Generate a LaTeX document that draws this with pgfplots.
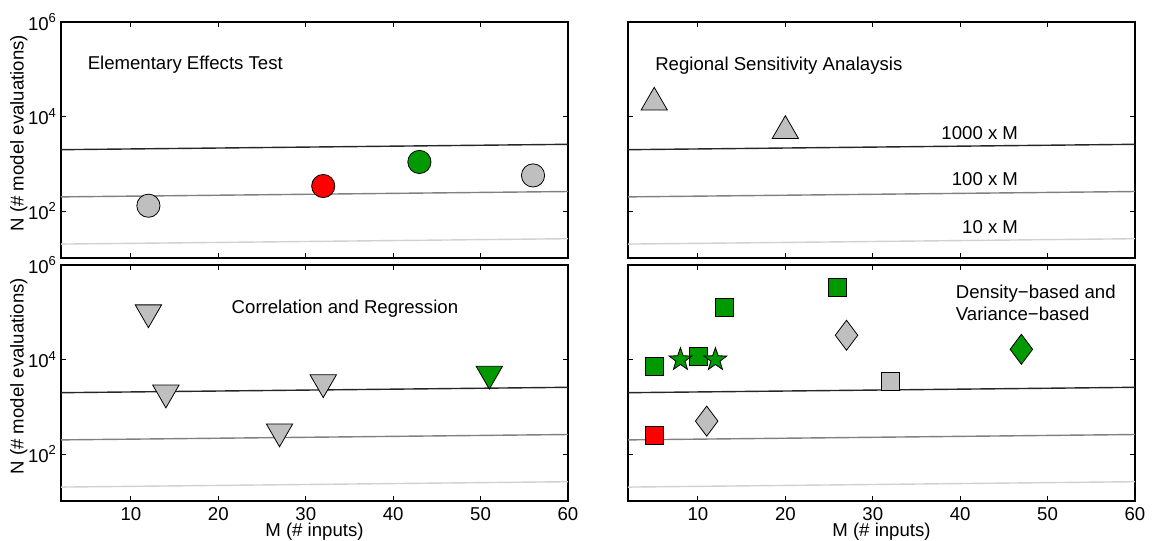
\documentclass[border=0pt]{standalone}
\usepackage{fontspec}
\setmainfont{Liberation Sans}
\usepackage{pgfplots}
\pgfplotsset{compat=1.18}

\definecolor{mgreen}{rgb}{0,0.6,0}
\definecolor{mgray}{rgb}{0.75,0.75,0.75}
\newcommand{\fs}{\fontsize{9.3}{11}\selectfont}

% filled five-pointed star (MATLAB 'pentagram')
\pgfdeclareplotmark{pstar}{%
  \pgfpathmoveto{\pgfqpointpolar{90}{\pgfplotmarksize}}%
  \pgfpathlineto{\pgfqpointpolar{126}{0.4\pgfplotmarksize}}%
  \pgfpathlineto{\pgfqpointpolar{162}{\pgfplotmarksize}}%
  \pgfpathlineto{\pgfqpointpolar{198}{0.4\pgfplotmarksize}}%
  \pgfpathlineto{\pgfqpointpolar{234}{\pgfplotmarksize}}%
  \pgfpathlineto{\pgfqpointpolar{270}{0.4\pgfplotmarksize}}%
  \pgfpathlineto{\pgfqpointpolar{306}{\pgfplotmarksize}}%
  \pgfpathlineto{\pgfqpointpolar{342}{0.4\pgfplotmarksize}}%
  \pgfpathlineto{\pgfqpointpolar{18}{\pgfplotmarksize}}%
  \pgfpathlineto{\pgfqpointpolar{54}{0.4\pgfplotmarksize}}%
  \pgfpathclose
  \pgfusepathqfillstroke
}

% one panel of the 2x2 figure, log N against M
\pgfplotsset{
  sapanel/.style={
    width=253.5pt, height=118pt, scale only axis,
    xmin=2, xmax=60, ymin=10, ymax=1e6,
    xtick={10,20,30,40,50,60}, xticklabels={10,20,30,40,50,60},
    ytick={100,10000,1000000},
    yticklabels={10\textsuperscript{2},10\textsuperscript{4},10\textsuperscript{6}},
    yminorticks=false, xminorticks=false,
    major tick length=2.5pt,
    tick style={black, line width=0.5pt},
    axis line style={line width=0.9pt},
    tick label style={font=\fs},
    label style={font=\fs},
    yticklabel style={xshift=1.5pt},
    xticklabel style={yshift=0.3pt},
    ylabel={N (\# model evaluations)},
    ylabel style={at={(axis description cs:-0.083,0.53)}, anchor=center},
    xlabel={M (\# inputs)},
    xlabel style={at={(axis description cs:0.5,-0.13)}, anchor=center},
  },
  refl/.style={forget plot, line width=0.7pt},
  samk/.style={only marks, mark options={draw=black, line width=0.5pt}},
  nolabx/.style={xticklabels={}, xlabel={}},
  nolaby/.style={yticklabels={}, ylabel={}},
}

\newcommand{\reflines}{%
  \addplot[refl, black!85] coordinates {(2,2000) (60,2600)};
  \addplot[refl, black!50] coordinates {(2,200) (60,260)};
  \addplot[refl, black!18] coordinates {(2,20) (60,26)};
}

\begin{document}
\begin{tikzpicture}[font=\fs]
\path[use as bounding box] (0,0) rectangle (576pt,270.5pt);

% Elementary Effects Test
\begin{semilogyaxis}[sapanel, nolabx, at={(30.5pt,141.35pt)}, anchor=south west]
\reflines
\addplot[samk, mark=*, mark size=5.8pt, mark options={fill=mgray}] coordinates {(12,130) (56,570)};
\addplot[samk, mark=*, mark size=5.8pt, mark options={fill=red}] coordinates {(32,340)};
\addplot[samk, mark=*, mark size=5.8pt, mark options={fill=mgreen}] coordinates {(43,1100)};
\node[anchor=west, inner sep=0pt] at (rel axis cs:0.052,0.822) {Elementary Effects Test};
\end{semilogyaxis}

% Regional Sensitivity Analysis
\begin{semilogyaxis}[sapanel, nolabx, nolaby, at={(314pt,141.35pt)}, anchor=south west]
\reflines
\addplot[samk, mark=triangle*, mark size=7.6pt, mark options={fill=mgray}] coordinates {(5,20000) (20,5000)};
\node[anchor=west, inner sep=0pt] at (rel axis cs:0.053,0.817) {Regional Sensitivity Analaysis};
\node[anchor=east, inner sep=0pt] at (rel axis cs:0.770,0.532) {1000 x M};
\node[anchor=east, inner sep=0pt] at (rel axis cs:0.770,0.336) {100 x M};
\node[anchor=east, inner sep=0pt] at (rel axis cs:0.770,0.134) {10 x M};
\end{semilogyaxis}

% Correlation and Regression
\begin{semilogyaxis}[sapanel, at={(30.5pt,19.85pt)}, anchor=south west]
\reflines
\addplot[samk, mark=triangle*, mark size=7.6pt, mark options={fill=mgray, rotate=180}] coordinates {(12,100000) (14,2000) (27,300) (32,3300)};
\addplot[samk, mark=triangle*, mark size=7.6pt, mark options={fill=mgreen, rotate=180}] coordinates {(51,5000)};
\node[anchor=west, inner sep=0pt] at (rel axis cs:0.336,0.817) {Correlation and Regression};
\end{semilogyaxis}

% Density-based and Variance-based
\begin{semilogyaxis}[sapanel, nolaby, at={(314pt,19.85pt)}, anchor=south west]
\reflines
\addplot[samk, mark=square*, mark size=4.5pt, mark options={fill=mgreen}] coordinates {(5,7200) (10,11600) (13,127000) (26,336000)};
\addplot[samk, mark=square*, mark size=4.5pt, mark options={fill=mgray}] coordinates {(32,3400)};
\addplot[samk, mark=square*, mark size=4.5pt, mark options={fill=red}] coordinates {(5,250)};
\addplot[samk, mark=pstar, mark size=6pt, mark options={fill=mgreen}] coordinates {(8,10000) (12,10000)};
\addplot[samk, mark=diamond*, mark size=7.5pt, mark options={fill=mgray}] coordinates {(27,33000) (11,500)};
\addplot[samk, mark=diamond*, mark size=7.5pt, mark options={fill=mgreen}] coordinates {(47,16600)};
\node[anchor=west, align=left, inner sep=0pt] at (rel axis cs:0.646,0.84) {Density−based and\\Variance−based};
\end{semilogyaxis}
\end{tikzpicture}
\end{document}
